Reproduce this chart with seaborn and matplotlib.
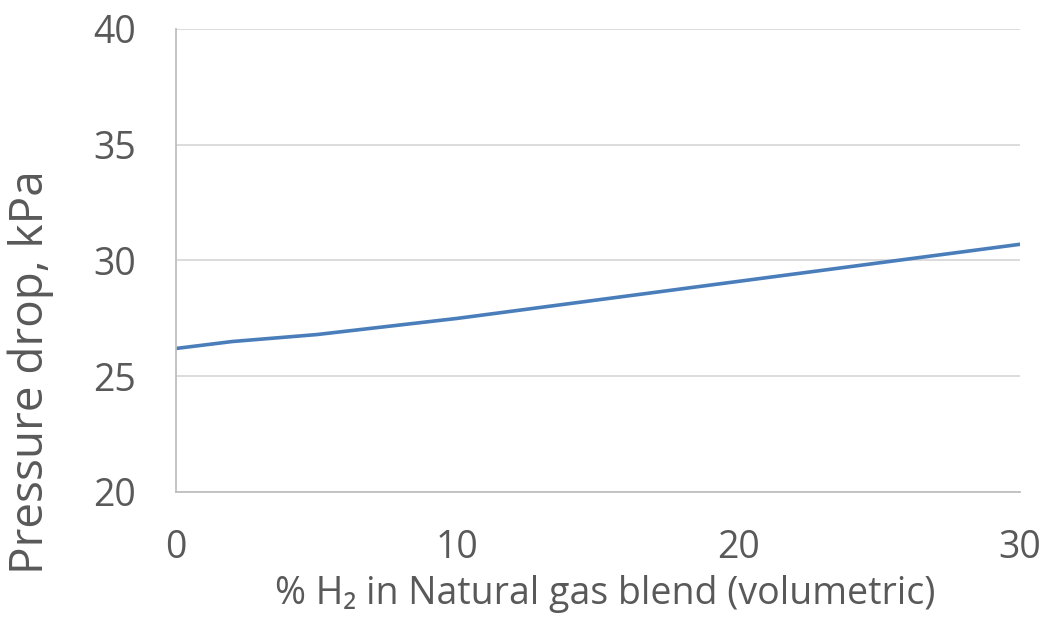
import pandas as pd
import matplotlib
matplotlib.use("Agg")
import matplotlib.pyplot as plt
import seaborn as sns

# data
h2_percent = [0, 2, 5, 10, 15, 20, 25, 30]
pressure_drop = [26.2, 26.5, 26.8, 27.5, 28.3, 29.1, 29.9, 30.7]
y_ticks = [20, 25, 30, 35, 40]
x_ticks = [0, 10, 20, 30]

df = pd.DataFrame({"h2": h2_percent, "dp": pressure_drop})

sns.set_theme(style="white")
plt.rcParams["font.family"] = ["Open Sans", "Noto Sans", "DejaVu Sans"]

W, H = 1044, 626
fig = plt.figure(figsize=(W / 100, H / 100), dpi=100)
ax = fig.add_axes([176 / W, 1 - 492 / H, 844 / W, 463 / H])

sns.lineplot(x="h2", y="dp", data=df, ax=ax, color="#4a7ebb", linewidth=2.6)

ax.set_xlim(0, 30)
ax.set_ylim(20, 40)
ax.set_xticks(x_ticks)
ax.set_yticks(y_ticks)
ax.tick_params(axis="both", labelsize=27, labelcolor="#595959", length=0)
ax.tick_params(axis="x", pad=27)
ax.tick_params(axis="y", pad=29)
ax.yaxis.grid(True, color="#d9d9d9", linewidth=1.3)
ax.xaxis.grid(False)

for side in ["top", "right"]:
    ax.spines[side].set_visible(False)
for side in ["left", "bottom"]:
    ax.spines[side].set_color("#bfbfbf")
    ax.spines[side].set_linewidth(1.3)

ax.set_xlabel("% H\u2082 in Natural gas blend (volumetric)", fontsize=27, color="#595959")
ax.set_ylabel("Pressure drop, kPa", fontsize=33, color="#595959")
ax.xaxis.set_label_coords(0.508, -0.18)
ax.yaxis.set_label_coords(-0.145, 0.259)

# chart title sits mostly above the visible area in the reference
title_size = 40
fig.canvas.draw()
renderer = fig.canvas.get_renderer()
probe = fig.text(0, 0, "Pressure dro", fontsize=title_size)
prefix_w = probe.get_window_extent(renderer).width
probe.remove()
title_x = (492 - 4 - prefix_w) / W
fig.text(title_x, 1 + 14 / H, "Pressure drop, kPa", fontsize=title_size,
         color="black", ha="left", va="baseline")

fig.savefig("out.png", dpi=100)
